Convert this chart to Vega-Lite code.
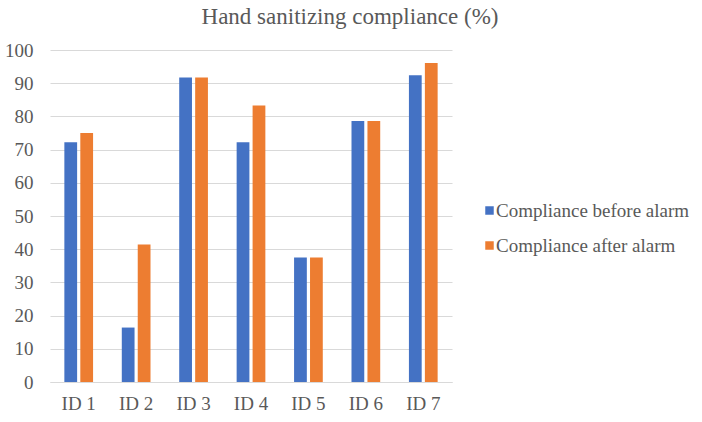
{
  "$schema": "https://vega.github.io/schema/vega-lite/v6.json",
  "width": 402,
  "height": 332,
  "autosize": {"type": "none"},
  "padding": {"left": 50, "top": 50, "right": 250, "bottom": 40},
  "background": "white",
  "title": {
    "text": "Hand sanitizing compliance (%)",
    "font": "Liberation Serif",
    "fontSize": 23,
    "fontWeight": "normal",
    "color": "#595959",
    "anchor": "middle",
    "dx": 99,
    "offset": 12
  },
  "data": {
    "values": [
      {"id": "ID 1", "series": "Compliance before alarm", "value": 72.2},
      {"id": "ID 1", "series": "Compliance after alarm", "value": 75.0},
      {"id": "ID 2", "series": "Compliance before alarm", "value": 16.4},
      {"id": "ID 2", "series": "Compliance after alarm", "value": 41.4},
      {"id": "ID 3", "series": "Compliance before alarm", "value": 91.7},
      {"id": "ID 3", "series": "Compliance after alarm", "value": 91.7},
      {"id": "ID 4", "series": "Compliance before alarm", "value": 72.2},
      {"id": "ID 4", "series": "Compliance after alarm", "value": 83.3},
      {"id": "ID 5", "series": "Compliance before alarm", "value": 37.5},
      {"id": "ID 5", "series": "Compliance after alarm", "value": 37.5},
      {"id": "ID 6", "series": "Compliance before alarm", "value": 78.6},
      {"id": "ID 6", "series": "Compliance after alarm", "value": 78.6},
      {"id": "ID 7", "series": "Compliance before alarm", "value": 92.4},
      {"id": "ID 7", "series": "Compliance after alarm", "value": 96.1}
    ]
  },
  "mark": {"type": "bar"},
  "encoding": {
    "x": {
      "field": "id",
      "type": "nominal",
      "sort": null,
      "scale": {"paddingInner": 0.5, "paddingOuter": 0.25},
      "axis": {
        "title": null,
        "labelAngle": 0,
        "labelPadding": 12,
        "ticks": false,
        "domainColor": "#d9d9d9",
        "domainWidth": 1
      }
    },
    "xOffset": {
      "field": "series",
      "type": "nominal",
      "sort": ["Compliance before alarm", "Compliance after alarm"],
      "scale": {"paddingInner": 0.2, "paddingOuter": 0}
    },
    "y": {
      "field": "value",
      "type": "quantitative",
      "scale": {"domain": [0, 100], "nice": false},
      "axis": {
        "title": null,
        "values": [0, 10, 20, 30, 40, 50, 60, 70, 80, 90, 100],
        "labelPadding": 17,
        "ticks": false,
        "domain": false,
        "grid": true,
        "gridColor": "#d9d9d9",
        "gridWidth": 1
      }
    },
    "color": {
      "field": "series",
      "type": "nominal",
      "sort": ["Compliance before alarm", "Compliance after alarm"],
      "scale": {
        "domain": ["Compliance before alarm", "Compliance after alarm"],
        "range": ["#4472C4", "#ED7D31"]
      },
      "legend": {
        "title": null,
        "orient": "none",
        "legendX": 430,
        "legendY": 151,
        "symbolType": "square",
        "symbolSize": 72,
        "symbolStrokeWidth": 0,
        "labelOffset": -3,
        "labelLimit": 0,
        "rowPadding": 15
      }
    }
  },
  "config": {
    "font": "Liberation Serif",
    "view": {"stroke": null},
    "axis": {"labelFont": "Liberation Serif", "labelFontSize": 19, "labelColor": "#595959"},
    "legend": {"labelFont": "Liberation Serif", "labelFontSize": 19, "labelColor": "#595959"}
  }
}
